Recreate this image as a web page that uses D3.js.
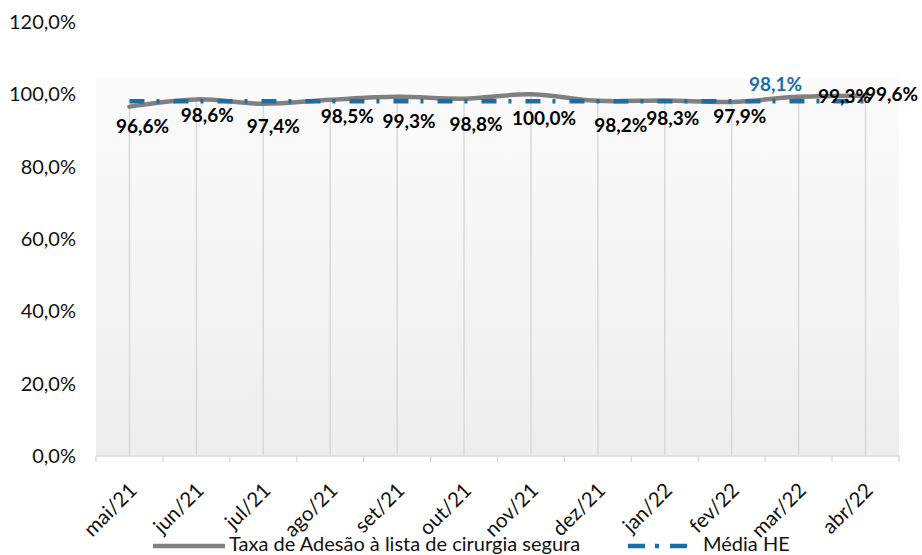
<!DOCTYPE html>
<html>
<head>
<meta charset="utf-8">
<script src="https://cdn.jsdelivr.net/npm/d3@7"></script>
<style>
  html, body { margin: 0; padding: 0; background: #fff; }
  svg { display: block; font-family: Lato, "Open Sans", sans-serif; }
</style>
</head>
<body>
<svg id="chart" width="922" height="555"></svg>
<script>
// Monthly categories
const months = ["mai/21", "jun/21", "jul/21", "ago/21", "set/21", "out/21",
                "nov/21", "dez/21", "jan/22", "fev/22", "mar/22", "abr/22"];
// Taxa de Adesão à lista de cirurgia segura (%)
const adesao = [96.6, 98.6, 97.4, 98.5, 99.3, 98.8, 100.0, 98.2, 98.3, 97.9, 99.3, 99.6];
// Média HE (%)
const mediaHE = [98.1, 98.1, 98.1, 98.1, 98.1, 98.1, 98.1, 98.1, 98.1, 98.1, 98.1, 98.1];
// Y axis ticks
const yTicks = [0, 20, 40, 60, 80, 100, 120];
const seriesNames = ["Taxa de Adesão à lista de cirurgia segura", "Média HE"];

// Layout
const plot = { left: 96, right: 899, top: 22, bottom: 456 };
const grayCol = "#808080";
const blueCol = "#1b6ea5";
// Label nudges [dx, dy] relative to each point (text centre)
const labelNudge = [[13, 21], [11, 18], [10, 24], [17, 18], [12, 26], [12, 27],
                    [13, 26], [23, 26], [8, 20], [8, 16], [46, 1], [26, 0]];

const fmt = v => d3.format(".1f")(v).replace(".", ",") + "%";

const svg = d3.select("#chart");

const x = d3.scaleBand().domain(months).range([plot.left, plot.right]).padding(0);
const xc = d => x(d) + x.bandwidth() / 2;
const y = d3.scaleLinear().domain([0, 120]).range([plot.bottom, plot.top]);

// Plot area background: soft vertical gradient
const defs = svg.append("defs");
const grad = defs.append("linearGradient").attr("id", "bg")
  .attr("x1", 0).attr("y1", 0).attr("x2", 0).attr("y2", 1);
grad.append("stop").attr("offset", "0").attr("stop-color", "#ffffff");
grad.append("stop").attr("offset", "0.128").attr("stop-color", "#ffffff");
grad.append("stop").attr("offset", "0.13").attr("stop-color", "#fbfbfb");
grad.append("stop").attr("offset", "1").attr("stop-color", "#eeeeee");

svg.append("rect")
  .attr("x", plot.left).attr("y", plot.top)
  .attr("width", plot.right - plot.left).attr("height", plot.bottom - plot.top)
  .attr("fill", "url(#bg)");

// Y axis labels (no axis line)
const yAxis = d3.axisLeft(y).tickValues(yTicks).tickSize(0).tickPadding(0)
  .tickFormat(fmt);
const gy = svg.append("g").attr("transform", `translate(${plot.left - 20},0)`).call(yAxis);
gy.select(".domain").remove();
gy.selectAll("text")
  .attr("font-family", "Lato, sans-serif")
  .attr("font-size", 20).attr("fill", "#111");

// X axis with ticks at category boundaries
const gx = svg.append("g").attr("transform", `translate(0,${plot.bottom})`);
gx.append("line").attr("x1", plot.left).attr("x2", plot.right)
  .attr("stroke", "#d9d9d9").attr("stroke-width", 1.3);
const bounds = months.map(m => x(m)).concat([plot.right]);
gx.selectAll("line.tk").data(bounds).join("line").attr("class", "tk")
  .attr("x1", d => d).attr("x2", d => d).attr("y1", 0).attr("y2", 6)
  .attr("stroke", "#d9d9d9").attr("stroke-width", 1.3);
gx.selectAll("text").data(months).join("text")
  .attr("transform", d => `translate(${xc(d) + 5},${32}) rotate(-45)`)
  .attr("text-anchor", "end")
  .attr("dominant-baseline", "middle")
  .attr("font-size", 20.5).attr("fill", "#111")
  .text(d => d);

// Drop lines from each point down to the axis
svg.append("g").selectAll("line").data(months).join("line")
  .attr("x1", d => xc(d)).attr("x2", d => xc(d))
  .attr("y1", (d, i) => y(adesao[i])).attr("y2", plot.bottom)
  .attr("stroke", "#d9d9d9").attr("stroke-width", 1.5);

// Taxa de adesão – smoothed gray line
const line = d3.line().x((d, i) => xc(months[i])).y(d => y(d))
  .curve(d3.curveCatmullRom.alpha(0));
svg.append("path").datum(adesao)
  .attr("d", line)
  .attr("fill", "none").attr("stroke", grayCol).attr("stroke-width", 4.5)
  .attr("stroke-linecap", "round");

// Média HE – dash-dot line
const lineStraight = d3.line().x((d, i) => xc(months[i])).y(d => y(d));
svg.append("path").datum(mediaHE)
  .attr("d", lineStraight)
  .attr("fill", "none").attr("stroke", blueCol).attr("stroke-width", 4.5)
  .attr("stroke-dasharray", "15,12,3,14");

// Data labels
svg.append("g").selectAll("text").data(adesao).join("text")
  .attr("x", (d, i) => xc(months[i]) + labelNudge[i][0])
  .attr("y", (d, i) => y(d) + labelNudge[i][1])
  .attr("text-anchor", "middle").attr("dominant-baseline", "middle")
  .attr("font-size", 19).attr("font-weight", 700).attr("fill", "#000")
  .text(d => fmt(d));

// Média HE value label
const lastIdx = 10;
svg.append("text")
  .attr("x", xc(months[lastIdx]) - 23)
  .attr("y", y(mediaHE[lastIdx]) - 15)
  .attr("text-anchor", "middle").attr("dominant-baseline", "middle")
  .attr("font-size", 19).attr("font-weight", 700).attr("fill", blueCol)
  .text(fmt(mediaHE[lastIdx]));

// Legend
const lg = svg.append("g");
lg.append("line").attr("x1", 153).attr("x2", 225).attr("y1", 546).attr("y2", 546)
  .attr("stroke", grayCol).attr("stroke-width", 4.5);
lg.append("text").attr("x", 229).attr("y", 546).attr("dominant-baseline", "middle")
  .attr("font-size", 20).attr("fill", "#111").text(seriesNames[0]);
lg.append("line").attr("x1", 628).attr("x2", 687).attr("y1", 546).attr("y2", 546)
  .attr("stroke", blueCol).attr("stroke-width", 4.5)
  .attr("stroke-dasharray", "17,10,4,11,17");
lg.append("text").attr("x", 703).attr("y", 546).attr("dominant-baseline", "middle")
  .attr("font-size", 20).attr("fill", "#111").text(seriesNames[1]);
</script>
</body>
</html>
